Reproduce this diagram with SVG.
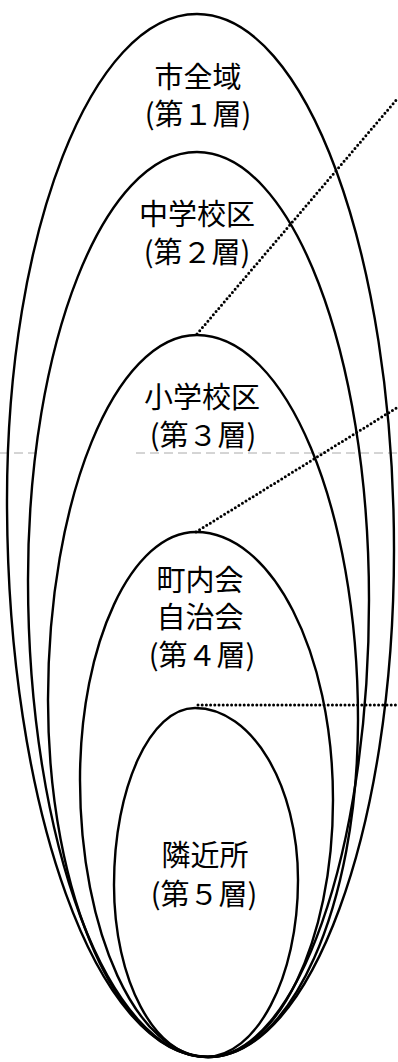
<svg xmlns="http://www.w3.org/2000/svg" width="398" height="1062" viewBox="0 0 398 1062">
<style>
.ell{fill:none;stroke:#000;stroke-width:2.4}
.lead{fill:none;stroke:#000;stroke-width:3;stroke-linecap:round;stroke-dasharray:0 4.2}
.lbl{font-family:"Noto Sans CJK JP","Noto Sans CJK SC",sans-serif;font-size:29px;fill:#000;text-anchor:middle}
.fold{fill:none;stroke:#aaa;stroke-width:1;stroke-dasharray:9 5}
</style>
<rect width="398" height="1062" fill="#fff"/>
<path class="fold" d="M0 453 H40 M136 453 H398"/>
<g id="layer1">
<path class="ell" d="M197 14 C305.8 14 394 254 394 550 C394 830 310.7 1057 208 1057 C97 1057 7 807.6 7 500 C7 231.6 92.1 14 197 14 Z"/>
<text class="lbl" x="198" y="88">市全域</text>
<text class="lbl" x="198" y="125">(第１層)</text>
</g>
<g id="layer2">
<path class="ell" d="M197 152 C292 152 369 352.6 369 600 C369 852.4 296.9 1057 208 1057 C108.6 1057 28 843.4 28 580 C28 343.6 103.7 152 197 152 Z"/>
<text class="lbl" x="197" y="225">中学校区</text>
<text class="lbl" x="197" y="263">(第２層)</text>
</g>
<g id="layer3">
<path class="ell" d="M197 335 C285.9 335 358 507.4 358 720 C358 906.1 290.8 1057 208 1057 C119.6 1057 48 897.2 48 700 C48 498.4 114.7 335 197 335 Z"/>
<text class="lbl" x="202" y="408">小学校区</text>
<text class="lbl" x="203" y="446">(第３層)</text>
</g>
<g id="layer4">
<path class="ell" d="M196 532 C271.7 532 333 652 333 800 C333 941.9 277 1057 208 1057 C137.3 1057 80 933 80 780 C80 643 131.9 532 196 532 Z"/>
<text class="lbl" x="200" y="591">町内会</text>
<text class="lbl" x="200" y="628">自治会</text>
<text class="lbl" x="202" y="666">(第４層)</text>
</g>
<g id="layer5">
<path class="ell" d="M195 708 C251.9 708 298 785 298 880 C298 977.8 256.4 1057 205 1057 C154.7 1057 114 980 114 885 C114 787.2 150.3 708 195 708 Z"/>
<text class="lbl" x="205" y="866">隣近所</text>
<text class="lbl" x="204" y="905">(第５層)</text>
</g>
<g id="connectors">
<path class="lead" d="M197 334 L398 98"/>
<path class="lead" d="M196 532 L398 407"/>
<path class="lead" d="M198 705 L398 705"/>
</g>
</svg>
